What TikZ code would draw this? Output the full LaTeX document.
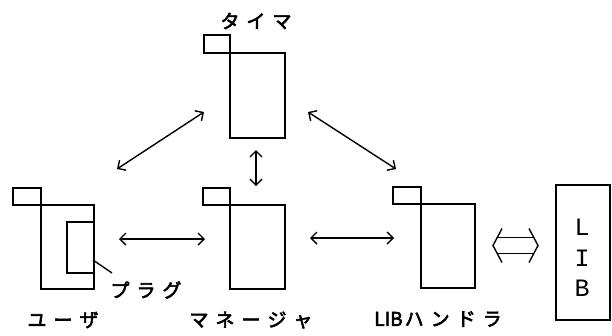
\documentclass[tikz,border=0pt]{standalone}
\usepackage{fontspec}
\newfontfamily\jpfont[FakeBold=3]{Noto Sans CJK JP}
\newfontfamily\libfont{Liberation Mono}
\usetikzlibrary{arrows.meta}
\newcommand{\gapx}{\hspace{7pt}}
\tikzset{
  box/.style={draw, line width=1.5pt, inner sep=0pt, anchor=north west},
  link/.style={line width=1.4pt, {Straight Barb[length=6pt,width=12pt]}-{Straight Barb[length=6pt,width=12pt]}},
  lbl/.style={font=\jpfont\fontsize{19}{21}\selectfont, inner sep=0pt},
  thin/.style={line width=1.4pt},
  libl/.style={font=\libfont\fontsize{25}{27}\selectfont, inner sep=0pt}
}
\begin{document}
\begin{tikzpicture}[x=1pt,y=-1pt]
\useasboundingbox[fill=white] (0,0) rectangle (612,335);
% Timer
\node[box, minimum width=26pt, minimum height=18pt] (tmtab) at (203,34) {};
\node[box, minimum width=55pt, minimum height=85pt] (tm) at (229,52) {};
\node[lbl] (tmlbl) at (256,21) {タ\gapx イ\gapx マ};
% User
\node[box, minimum width=28pt, minimum height=17pt] (ustab) at (12,187) {};
\node[box, minimum width=53pt, minimum height=84pt] (us) at (40,204) {};
\node[box, minimum width=27pt, minimum height=51pt] (plug) at (66,221) {};
\node[lbl] (pluglbl) at (146,290) {プ\gapx ラ\gapx グ};
\coordinate (plugpt) at (93,260);
\coordinate (plugend) at (112,273);
\draw[thin] (plugpt) -- (plugend);
\node[lbl] (uslbl) at (63,320) {ユ\gapx ー\gapx ザ};
% Manager
\node[box, minimum width=27pt, minimum height=17pt] (mgtab) at (202,187) {};
\node[box, minimum width=55pt, minimum height=84pt] (mg) at (229,204) {};
\node[lbl] (mglbl) at (251,320) {マ\gapx ネ\gapx ー\gapx ジ\gapx ャ};
% LIB handler
\node[box, minimum width=28pt, minimum height=17pt] (lhtab) at (392,186) {};
\node[box, minimum width=54pt, minimum height=84pt] (lh) at (420,203) {};
\node[lbl] (lhlbl) at (438,319) {LIB\hspace{2pt}ハ\gapx ン\gapx ド\gapx ラ};
% LIB box
\node[box, minimum width=54pt, minimum height=135pt] (lib) at (555,184) {};
\node[libl] (libL) at (582,227) {L};
\node[libl] (libI) at (582,258) {I};
\node[libl] (libB) at (582,288) {B};
% arrow ends
\coordinate (a1s) at (117,169); \coordinate (a1e) at (204,112);
\coordinate (a2s) at (308,112); \coordinate (a2e) at (396,169);
\coordinate (a3s) at (256,150); \coordinate (a3e) at (256,186);
\coordinate (a4s) at (119,239); \coordinate (a4e) at (205,239);
\coordinate (a5s) at (310,238); \coordinate (a5e) at (394,238);
\draw[link] (a1s) -- (a1e);
\draw[link] (a2s) -- (a2e);
\draw[link] (a3s) -- (a3e);
\draw[link] (a4s) -- (a4e);
\draw[link] (a5s) -- (a5e);
% hollow double arrow
\coordinate (hl) at (493,245.5); \coordinate (hr) at (538,245.5);
\draw[thin] ([shift={(9,-17)}]hl) -- (hl) -- ([shift={(9,17)}]hl);
\draw[thin] ([shift={(-9,-17)}]hr) -- (hr) -- ([shift={(-9,17)}]hr);
\draw[thin] ([shift={(4,-8)}]hl) -- ([shift={(-4,-8)}]hr);
\draw[thin] ([shift={(4,8)}]hl) -- ([shift={(-4,8)}]hr);
\end{tikzpicture}
\end{document}
